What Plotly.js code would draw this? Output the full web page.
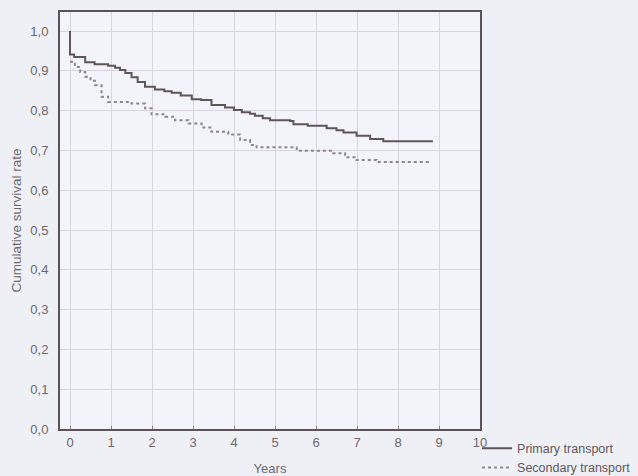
<!DOCTYPE html>
<html>
<head>
<meta charset="utf-8">
<script src="https://cdn.plot.ly/plotly-3.0.1.min.js"></script>
<style>
html,body{margin:0;padding:0;background:#eef0f6;}
#chart{width:638px;height:476px;}
</style>
</head>
<body>
<div id="chart"></div>
<script>
// Primary transport (solid) – Kaplan-Meier steps
var primaryYears = [0, 0, 0.1, 0.37, 0.6, 0.93, 1.1, 1.22, 1.35, 1.5, 1.65, 1.83, 2.07, 2.3, 2.48, 2.7, 2.97, 3.2, 3.45, 3.78, 4.0, 4.19, 4.39, 4.51, 4.7, 4.88, 5.37, 5.45, 5.8, 6.26, 6.5, 6.67, 6.99, 7.32, 7.64, 8.85];
var primarySurv  = [1.0, 0.941, 0.935, 0.922, 0.917, 0.913, 0.908, 0.902, 0.895, 0.884, 0.872, 0.860, 0.853, 0.849, 0.845, 0.838, 0.829, 0.827, 0.814, 0.808, 0.802, 0.796, 0.792, 0.787, 0.781, 0.776, 0.774, 0.766, 0.762, 0.756, 0.751, 0.745, 0.737, 0.729, 0.723, 0.723];
// Secondary transport (dashed)
var secondaryYears = [0, 0.12, 0.25, 0.37, 0.5, 0.61, 0.77, 0.93, 1.5, 1.83, 1.99, 2.32, 2.56, 2.89, 3.21, 3.45, 3.86, 4.15, 4.39, 4.55, 5.53, 6.42, 6.71, 6.99, 7.48, 8.78];
var secondarySurv  = [0.923, 0.910, 0.897, 0.885, 0.875, 0.864, 0.835, 0.822, 0.818, 0.806, 0.791, 0.785, 0.776, 0.768, 0.758, 0.747, 0.740, 0.726, 0.714, 0.708, 0.699, 0.693, 0.683, 0.676, 0.671, 0.671];
var seriesNames = ["Primary transport", "Secondary transport"];
var xTicks = [0,1,2,3,4,5,6,7,8,9,10];
var yTicks = [0,0.1,0.2,0.3,0.4,0.5,0.6,0.7,0.8,0.9,1.0];

var font = "'Liberation Sans', Arial, sans-serif";
var traces = [
  {x: primaryYears, y: primarySurv, name: seriesNames[0], mode: "lines",
   line: {shape: "hv", color: "#5e5659", width: 2}},
  {x: secondaryYears, y: secondarySurv, name: seriesNames[1], mode: "lines",
   line: {shape: "hv", color: "#8d8689", width: 2, dash: "3px,3px"}}
];
var layout = {
  width: 638, height: 476,
  margin: {l: 60, r: 158, t: 12, b: 47, pad: 0, autoexpand: false},
  paper_bgcolor: "#eef0f6",
  plot_bgcolor: "#f3f4fa",
  separators: ",.",
  font: {family: font, size: 13, color: "#6d686c"},
  showlegend: true,
  legend: {x: 0.993, xanchor: "left", y: -0.011, yanchor: "top",
           bgcolor: "rgba(0,0,0,0)", font: {family: font, size: 12.5, color: "#5e585c"},
           tracegroupgap: 0, itemwidth: 30},
  xaxis: {range: [-0.244, 10], tickvals: xTicks, ticktext: xTicks.map(String),
          showgrid: true, gridcolor: "#d9d5de", gridwidth: 1, zeroline: false,
          showline: true, linecolor: "#5a5356", linewidth: 2, mirror: true,
          ticks: "inside", ticklen: 3, tickcolor: "#8a8589", automargin: false,
          title: {text: "Years", font: {family: font, size: 13, color: "#6d686c"}, standoff: 15}},
  yaxis: {range: [0, 1.048], tickvals: yTicks, tickformat: ".1f",
          showgrid: true, gridcolor: "#d9d5de", gridwidth: 1, zeroline: false,
          showline: true, linecolor: "#5a5356", linewidth: 2, mirror: true,
          ticks: "", ticklabelstandoff: 7, automargin: false,
          title: {text: "Cumulative survival rate", font: {family: font, size: 13.5, color: "#6d686c"}, standoff: 6}}
};
Plotly.newPlot("chart", traces, layout, {staticPlot: true, displayModeBar: false});
</script>
</body>
</html>
